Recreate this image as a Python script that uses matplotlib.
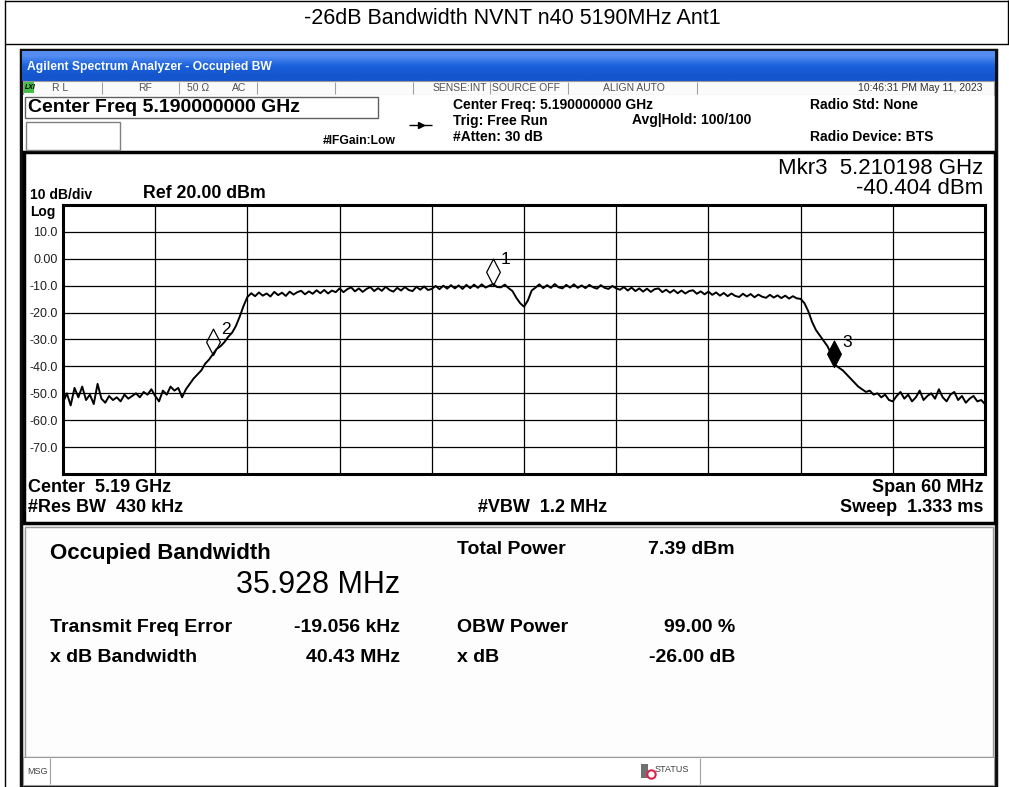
import numpy as np
import matplotlib
matplotlib.use('Agg')
import matplotlib.pyplot as plt
from matplotlib import font_manager
from matplotlib.path import Path
from matplotlib.patches import Rectangle

plt.rcParams['font.family'] = ['Liberation Sans', 'DejaVu Sans']

W, H = 1009, 787

# sweep settings (from the instrument header)
center_ghz = 5.19
span_ghz = 0.06
n_points = 241
ref_level = 20.0
bottom_level = -80.0

# trace levels in dBm left to right
floor_left = [-53.5, -50.0, -54.5, -48.0, -51.5, -47.5, -52.5, -50.5, -54.0, -46.5,
              -52.0, -53.5, -51.0, -52.5, -51.5, -53.0, -50.5, -52.0, -51.0, -50.0,
              -51.5, -49.5, -50.5, -48.5, -51.0, -53.0, -49.0, -50.5, -47.5, -49.0,
              -48.0, -51.5]
rise_left = [-48.5, -46.5, -44.5, -43.0, -41.5, -39.0, -37.5, -35.5, -33.5, -32.5,
             -31.0, -29.0, -27.5, -25.0, -21.5, -17.5]
top_a = [-14.2, -12.8, -13.9, -12.5, -13.7, -12.9, -14.0, -12.3, -13.5, -12.6,
         -13.8, -12.2, -13.3, -12.4, -11.9, -13.2, -12.1, -13.0, -11.7, -12.8,
         -11.6, -12.9, -11.8, -12.4]
top_b = [-11.0, -12.4, -11.3, -10.6, -12.1, -11.0, -12.3, -11.2, -10.5, -12.0,
         -10.9, -11.9, -10.4, -11.6, -12.2, -10.8, -11.8, -10.5, -11.6, -12.0,
         -10.4, -11.5, -10.3, -11.6]
top_c = [-11.2, -10.1, -11.3, -10.0, -11.1, -9.8, -11.0, -9.9, -11.2, -9.7,
         -10.9, -9.6, -10.8, -9.5, -10.7, -10.0, -9.4, -10.5, -10.6, -9.6, -10.9]
center_dip = [-12.0, -14.5, -16.5, -17.8, -15.5, -11.8]
top_d = [-10.7, -9.5, -10.9, -9.8, -10.8, -9.4, -10.6, -11.0, -9.7, -10.7,
         -9.5, -10.8, -9.9, -10.9, -9.7, -10.6, -11.1, -9.8, -10.8, -11.2,
         -10.1, -11.0]
top_e = [-11.5, -10.5, -11.8, -10.7, -12.0, -11.0, -12.2, -11.1, -12.3, -11.3,
         -11.0, -12.4, -11.5, -12.6, -11.6, -12.8, -11.8, -12.9, -12.0, -11.7,
         -13.0, -12.1, -13.2, -12.2]
top_f = [-13.4, -12.5, -13.7, -12.7, -13.9, -12.9, -13.8, -14.2, -13.0, -14.0,
         -13.1, -14.3, -13.3, -14.1, -14.5, -13.4, -14.4, -13.6, -14.6, -13.7,
         -14.8, -13.9, -14.7, -14.9]
fall_right = [-16.5, -19.5, -23.5, -26.5, -28.5, -30.5, -32.5, -35.5, -39.5, -40.5,
              -41.5, -43.0, -44.5, -46.0, -47.5, -48.5, -49.5, -49.0, -50.5]
floor_right = [-50.0, -51.5, -50.5, -52.5, -53.0, -51.0, -49.5, -52.0, -50.5, -53.0,
               -51.5, -49.0, -52.5, -51.0, -50.0, -52.0, -48.5, -51.5, -53.0, -50.5,
               -49.5, -52.5, -51.0, -53.5, -52.0, -51.0, -53.0, -52.5, -54.0]

# markers
marker_ids = ['1', '2', '3']
marker_freq = [5.188, 5.169768, 5.210198]
marker_level = [-9.6, -35.6, -40.404]
marker_filled = [False, False, True]

y_ticks = [20, 10, 0, -10, -20, -30, -40, -50, -60, -70, -80]
y_tick_labels = ['', '10.0', '0.00', '-10.0', '-20.0', '-30.0', '-40.0',
                 '-50.0', '-60.0', '-70.0', '']

trace_dbm = np.array(floor_left + rise_left + top_a + top_b + top_c + center_dip +
                     top_d + top_e + top_f + fall_right + floor_right)
freq_ghz = np.linspace(center_ghz - span_ghz / 2, center_ghz + span_ghz / 2, n_points)

names = {f.name for f in font_manager.fontManager.ttflist}
if 'Liberation Sans Narrow' in names:
    title_font, title_size = 'Liberation Sans Narrow', 18
else:
    title_font, title_size = 'Liberation Sans', 15.5

fig = plt.figure(figsize=(W / 100, H / 100), dpi=100)
bg = fig.add_axes([0, 0, 1, 1])
bg.set_xlim(0, W)
bg.set_ylim(H, 0)
bg.axis('off')


def box(x0, y0, x1, y1, fc='none', ec='black', lw=1.0, z=1):
    bg.add_patch(Rectangle((x0, y0), x1 - x0, y1 - y0, facecolor=fc,
                           edgecolor=ec, linewidth=lw, zorder=z))


def line(xs, ys, color='black', lw=1.0, z=2):
    bg.plot(xs, ys, color=color, lw=lw, zorder=z, solid_capstyle='butt')


def txt(x, y, s, size=10, weight='bold', ha='left', color='black', **kw):
    bg.text(x, y, s, fontsize=size, fontweight=weight, ha=ha, va='center',
            color=color, zorder=5, **kw)


# page frame and title
line([5, 5], [0, H], lw=1.0)
line([5, W], [1, 1], lw=1.0)
line([5, W], [44, 44], lw=1.0)
line([W - 1, W - 1], [0, 44], lw=1.0)
bg.text(512, 19, '-26dB Bandwidth NVNT n40 5190MHz Ant1', fontsize=title_size,
        family=[title_font, 'DejaVu Sans'], ha='center', va='center')

# analyzer window
box(21, 50, 996, 786, fc='#f7f7f7', ec='#101010', lw=2.5, z=0.5)
grad = np.array([[[0.33, 0.55, 0.95]], [[0.10, 0.38, 0.86]], [[0.08, 0.33, 0.80]]])
bg.imshow(grad, extent=(22, 995, 81, 51), aspect='auto', interpolation='bilinear', zorder=1)
txt(27, 67, 'Agilent Spectrum Analyzer - Occupied BW', size=8.7, color='white')

# status row
box(23, 81, 994, 95, fc='#fbfbfb', ec='#9a9a9a', lw=0.8)
box(24, 82, 34, 93, fc='#44c048', ec='none', lw=0, z=3)
txt(25, 87.5, 'LXI', size=5, color='black', style='italic')
for xd in [102, 179, 257, 335, 413, 490, 568, 697]:
    line([xd, xd], [82, 94], color='#a0a0a0', lw=0.8)
gray = '#505050'
txt(52, 88, 'R L', size=7.5, weight='normal', color=gray)
txt(138, 88, 'RF', size=7.5, weight='normal', color=gray)
txt(187, 88, '50 Ω', size=7.5, weight='normal', color=gray)
txt(232, 88, 'AC', size=7.5, weight='normal', color=gray)
txt(433, 88, 'SENSE:INT', size=7.5, weight='normal', color=gray)
txt(492, 88, 'SOURCE OFF', size=7.5, weight='normal', color=gray)
txt(603, 88, 'ALIGN AUTO', size=7.5, weight='normal', color=gray)
txt(983, 88, '10:46:31 PM May 11, 2023', size=7.5, weight='normal', color='#303030', ha='right')

# header area
box(23, 95, 994, 152, fc='white', ec='none', lw=0)
box(25, 97, 378, 118, fc='white', ec='#606060', lw=1.0, z=2)
txt(28, 108, 'Center Freq 5.190000000 GHz', size=14)
box(26, 122, 120, 150, fc='white', ec='#808080', lw=1.0, z=2)
txt(323, 141, '#IFGain:Low', size=8.7)
line([409, 432], [125, 125], lw=1.0)
bg.plot([421], [125], marker='>', ms=4, color='black', zorder=3)
txt(453, 105, 'Center Freq: 5.190000000 GHz', size=10)
txt(453, 121, 'Trig: Free Run', size=10)
txt(453, 137, '#Atten: 30 dB', size=10)
txt(632, 120, 'Avg|Hold: 100/100', size=10)
txt(810, 105, 'Radio Std: None', size=10)
txt(810, 137, 'Radio Device: BTS', size=10)

# graph panel
box(24, 152, 995, 523, fc='white', ec='black', lw=2.5, z=1)
txt(30, 195, '10 dB/div', size=10)
txt(143, 194, 'Ref 20.00 dBm', size=12.8)
txt(30, 212, 'Log', size=10)
txt(983, 168, 'Mkr3  5.210198 GHz', size=16, weight='normal', ha='right')
txt(983, 189, '-40.404 dBm', size=16, weight='normal', ha='right')
txt(28, 487, 'Center  5.19 GHz', size=13)
txt(28, 508, '#Res BW  430 kHz', size=13)
txt(543, 508, '#VBW  1.2 MHz', size=13, ha='center')
txt(983, 487, 'Span 60 MHz', size=13, ha='right')
txt(983, 508, 'Sweep  1.333 ms', size=13, ha='right')

# result panel
box(25, 527, 993, 757, fc='#fdfdfd', ec='#9a9a9a', lw=1.0, z=1)
txt(50, 553, 'Occupied Bandwidth', size=16)
txt(400, 585, '35.928 MHz', size=22, weight='normal', ha='right')
txt(50, 627, 'Transmit Freq Error', size=14)
txt(400, 627, '-19.056 kHz', size=14, ha='right')
txt(50, 657, 'x dB Bandwidth', size=14)
txt(400, 657, '40.43 MHz', size=14, ha='right')
txt(457, 549, 'Total Power', size=14)
txt(735, 549, '7.39 dBm', size=14, ha='right')
txt(457, 627, 'OBW Power', size=14)
txt(735, 627, '99.00 %', size=14, ha='right')
txt(457, 657, 'x dB', size=14)
txt(735, 657, '-26.00 dB', size=14, ha='right')

# message bar
box(23, 757, 994, 785, fc='white', ec='#9a9a9a', lw=0.8, z=1)
line([50, 50], [758, 784], color='#a0a0a0', lw=0.8)
line([700, 700], [758, 784], color='#a0a0a0', lw=0.8)
txt(27, 771, 'MSG', size=6.5, weight='normal', color='#404040')
box(641, 764, 648, 778, fc='#707070', ec='none', lw=0, z=3)
bg.plot([651], [774], marker='o', ms=6, mfc='none', mec='#e0204a', mew=1.5, zorder=4)
txt(655, 770, 'STATUS', size=6.5, weight='normal', color='#404040')

# spectrum graticule
ax = fig.add_axes([63 / W, 1 - 474 / H, 922 / W, 269 / H])
ax.set_facecolor('white')
ax.plot(freq_ghz, trace_dbm, color='black', lw=1.4, zorder=3)
ax.set_xlim(center_ghz - span_ghz / 2, center_ghz + span_ghz / 2)
ax.set_ylim(bottom_level, ref_level)
ax.set_xticks(np.linspace(center_ghz - span_ghz / 2, center_ghz + span_ghz / 2, 11))
ax.set_xticklabels([])
ax.set_yticks(y_ticks)
ax.set_yticklabels(y_tick_labels)
ax.tick_params(length=0, pad=4, labelsize=9, labelcolor='#202020')
ax.grid(True, color='black', lw=0.9, zorder=1)
for sp in ax.spines.values():
    sp.set_linewidth(2.2)

diamond = Path([(0, 0), (-0.26, 0.5), (0, 1), (0.26, 0.5), (0, 0)],
               [Path.MOVETO, Path.LINETO, Path.LINETO, Path.LINETO, Path.CLOSEPOLY])
for mid, f, lv, filled in zip(marker_ids, marker_freq, marker_level, marker_filled):
    ax.plot([f], [lv], marker=diamond, ms=38, linestyle='none',
            mfc='black' if filled else 'none', mec='black', mew=0.9, zorder=4)
    ax.annotate(mid, (f, lv), xytext=(9, 18), textcoords='offset points',
                fontsize=12.5, ha='center', va='center', zorder=5)

fig.savefig('out.png', dpi=100)
